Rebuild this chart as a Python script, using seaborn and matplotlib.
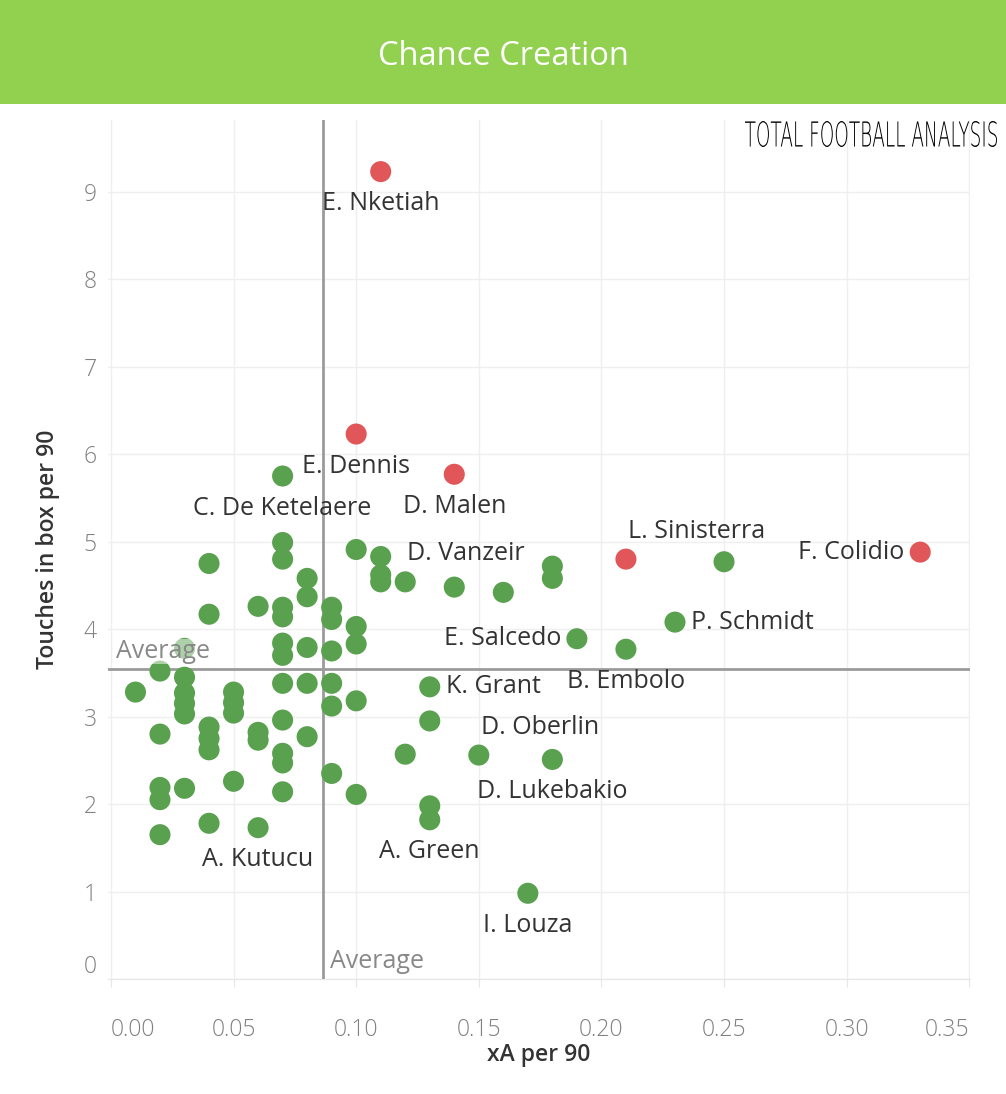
import numpy as np
import pandas as pd
import matplotlib
matplotlib.use("Agg")
import matplotlib.pyplot as plt
import seaborn as sns
from matplotlib.textpath import TextPath
from matplotlib.patches import PathPatch
from matplotlib.font_manager import FontProperties
from matplotlib.transforms import Affine2D, IdentityTransform

# xA per 90 and touches in box per 90 for every player
xa = [0.11, 0.10, 0.14, 0.21, 0.33,
      0.07, 0.07, 0.07, 0.04, 0.10, 0.11, 0.11, 0.11, 0.12, 0.14, 0.16, 0.18, 0.18,
      0.25, 0.23, 0.19, 0.21, 0.08, 0.08, 0.04, 0.06, 0.07, 0.07, 0.09, 0.09, 0.10,
      0.07, 0.07, 0.08, 0.09, 0.10, 0.03, 0.02, 0.03, 0.03, 0.03, 0.03, 0.01,
      0.05, 0.05, 0.05, 0.07, 0.08, 0.09, 0.09, 0.10, 0.13, 0.13, 0.02, 0.04,
      0.04, 0.04, 0.06, 0.06, 0.07, 0.08, 0.07, 0.07, 0.09, 0.12, 0.15, 0.18,
      0.02, 0.02, 0.03, 0.05, 0.07, 0.10, 0.13, 0.13, 0.04, 0.02, 0.06, 0.17]
touches = [9.23, 6.23, 5.77, 4.80, 4.88,
           5.75, 4.99, 4.80, 4.75, 4.91, 4.83, 4.62, 4.54, 4.54, 4.48, 4.42, 4.72, 4.58,
           4.77, 4.08, 3.89, 3.77, 4.58, 4.37, 4.17, 4.26, 4.25, 4.14, 4.25, 4.11, 4.03,
           3.84, 3.70, 3.79, 3.75, 3.83, 3.78, 3.52, 3.45, 3.27, 3.15, 3.03, 3.28,
           3.28, 3.16, 3.04, 3.38, 3.38, 3.38, 3.12, 3.18, 3.34, 2.95, 2.80, 2.88,
           2.75, 2.62, 2.82, 2.73, 2.96, 2.77, 2.58, 2.47, 2.35, 2.57, 2.56, 2.51,
           2.19, 2.05, 2.18, 2.26, 2.14, 2.11, 1.98, 1.82, 1.78, 1.65, 1.73, 0.98]
highlight = ["red"] * 5 + ["green"] * (len(xa) - 5)

# named players: (name, xA, touches)
names = ["E. Nketiah", "E. Dennis", "C. De Ketelaere", "D. Malen", "L. Sinisterra",
         "F. Colidio", "P. Schmidt", "E. Salcedo", "B. Embolo", "K. Grant",
         "D. Vanzeir", "D. Oberlin", "D. Lukebakio", "A. Green", "I. Louza", "A. Kutucu"]
name_x = [0.11, 0.10, 0.07, 0.14, 0.21, 0.33, 0.23, 0.19, 0.21, 0.13,
          0.12, 0.15, 0.18, 0.13, 0.17, 0.06]
name_y = [9.23, 6.23, 5.75, 5.77, 4.80, 4.88, 4.08, 3.89, 3.77, 3.34,
          4.54, 2.56, 2.51, 1.82, 0.98, 1.73]

avg_x = 0.0865
avg_y = 3.54

df = pd.DataFrame({"xA per 90": xa, "Touches in box per 90": touches, "grp": highlight})

# label placement: offset in pixels, horizontal alignment
label_pos = {"below": ((0, -32), "center"), "upright": ((2, 28), "left"),
             "left": ((-16, 0), "right"), "right": ((16, 0), "left")}
label_kind = ["below", "below", "below", "below", "upright", "left", "right", "left",
              "below", "right", "upright", "upright", "below", "below", "below", "below"]

FONT = ["Open Sans", "DejaVu Sans"]

fig = plt.figure(figsize=(10.06, 10.94), dpi=100)
fig.patch.set_facecolor("white")

# green title band
band = fig.add_axes([0, 1 - 104 / 1094, 1, 104 / 1094])
band.set_facecolor("#92D050")
band.set_xticks([])
band.set_yticks([])
for s in band.spines.values():
    s.set_visible(False)
band.text(0.5, 0.46, "Chance Creation", color="white", fontsize=23.5,
          family=FONT, ha="center", va="center")

ax = fig.add_axes([108 / 1006, 1 - 979 / 1094, 862 / 1006, 859 / 1094])
sns.scatterplot(data=df, x="xA per 90", y="Touches in box per 90", hue="grp",
                palette={"red": "#E15759", "green": "#59A14F"}, s=230,
                linewidth=0, legend=False, ax=ax, zorder=3)

ax.set_xlim(-0.0012, 0.3503)
ax.set_ylim(0, 9.82)
ax.set_xticks(np.arange(0, 0.36, 0.05))
ax.set_xticklabels([f"{v:.2f}" for v in np.arange(0, 0.36, 0.05)])
ax.set_yticks(range(0, 10))
ax.grid(True, color="#EFEFEF", lw=1, zorder=0)
for s in ["top", "right", "left"]:
    ax.spines[s].set_visible(False)
ax.spines["bottom"].set_color("#E6E6E6")
ax.tick_params(axis="x", length=6, color="#E6E6E6", pad=22, labelsize=16.5, labelcolor="#808080")
ax.tick_params(axis="y", length=0, pad=8, labelsize=16.5, labelcolor="#808080")
for lab in ax.get_xticklabels() + ax.get_yticklabels():
    lab.set_family(FONT)
    lab.set_fontweight("light")
xl = ax.get_xticklabels()
xl[0].set_ha("left")
xl[-1].set_ha("right")
ax.get_yticklabels()[0].set_va("bottom")

ax.set_xlabel("xA per 90", fontsize=16.5, color="#333333", fontweight="semibold",
              family=FONT, labelpad=1)
ax.set_ylabel("Touches in box per 90", fontsize=16.5, color="#333333", fontweight="semibold",
              family=FONT, labelpad=17)

# average reference lines
ax.axvline(avg_x, color="#9B9B9B", lw=2, zorder=2)
ax.axhline(avg_y, color="#9B9B9B", lw=2, zorder=2)
ax.text(0.002, avg_y + 0.2, "Average", fontsize=18, color="#888888",
        family=FONT, va="center", ha="left", zorder=4,
        bbox=dict(facecolor="white", alpha=0.5, edgecolor="none", pad=0))
ax.text(avg_x + 0.003, 0.2, "Average", fontsize=18, color="#888888",
        family=FONT, va="center", ha="left", zorder=4)

for n, x, y, k in zip(names, name_x, name_y, label_kind):
    (dx, dy), ha = label_pos[k]
    ax.annotate(n, (x, y), xytext=(dx * 0.72, dy * 0.72), textcoords="offset points",
                ha=ha, va="center", fontsize=18, color="#333333",
                family=FONT, zorder=5)

# logo text, squeezed into its box (pixel coordinates)
tp = TextPath((0, 0), "TOTAL FOOTBALL ANALYSIS", size=10,
              prop=FontProperties(family="DejaVu Sans", weight="light"))
bb = tp.get_extents()
box_w, box_h = 252, 26
sx, sy = box_w / bb.width, box_h / bb.height
tr = Affine2D().translate(-bb.x0, -bb.y0).scale(sx, sy).translate(745, 1094 - 147)
fig.add_artist(PathPatch(tr.transform_path(tp), facecolor="black", edgecolor="none",
                         transform=IdentityTransform()))

fig.savefig("out.png", dpi=100)
